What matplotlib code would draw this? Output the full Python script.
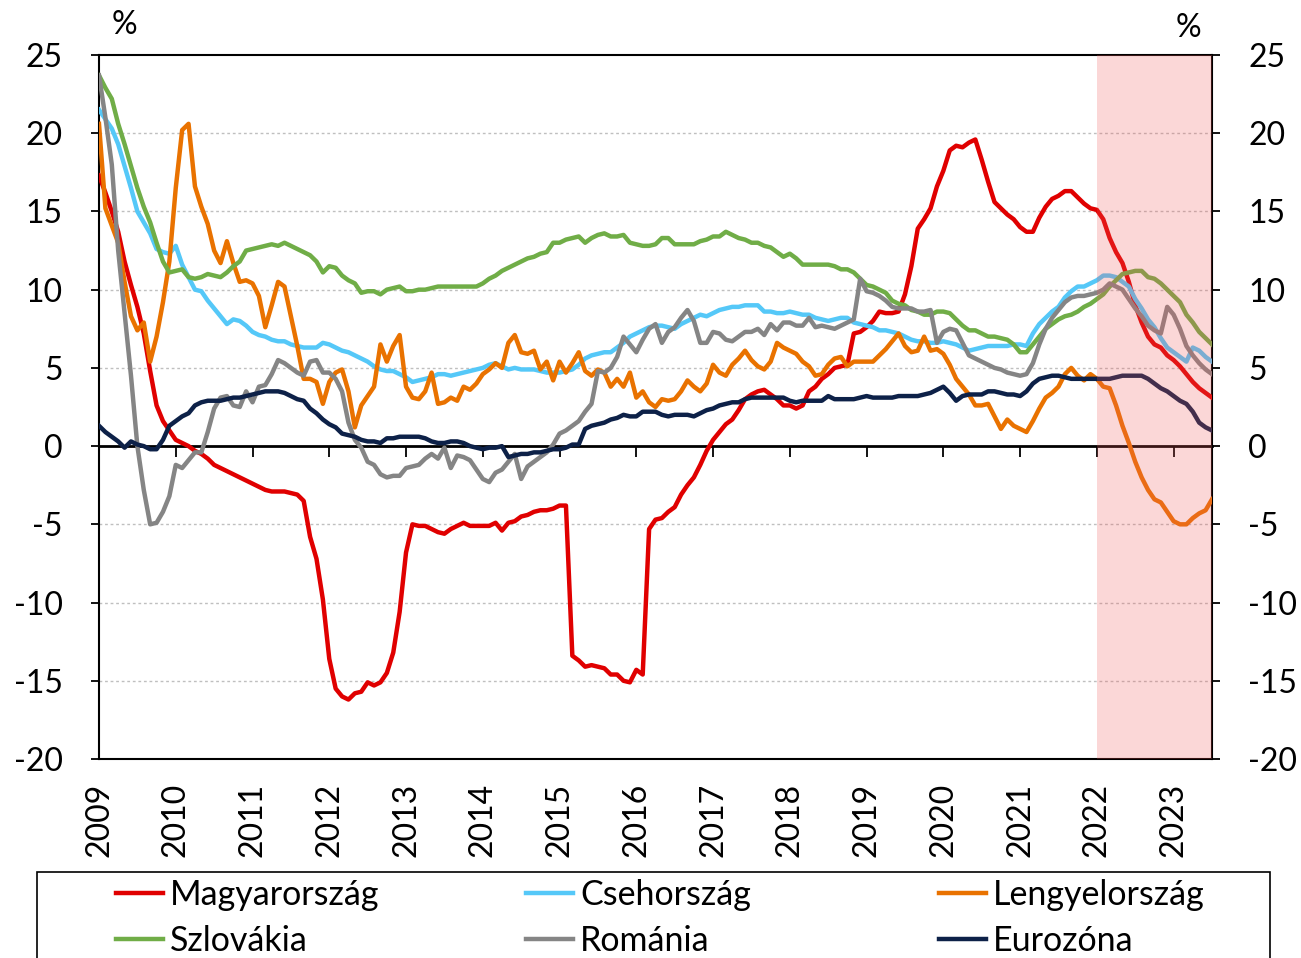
''' Inflation-type comparison chart, 2009-2023 '''

import numpy as np
import matplotlib.pyplot as plt
from matplotlib.patches import Rectangle

plt.rcParams['font.family'] = ['Lato', 'DejaVu Sans']
plt.rcParams['axes.unicode_minus'] = False

# monthly values, Jan 2009 - Jul 2023
magyar = [17.3, 16.2, 15.0, 13.7, 11.8, 10.3, 8.9, 7.2, 4.8, 2.6, 1.6, 1.0,
          0.4, 0.2, 0.0, -0.3, -0.5, -0.8, -1.2, -1.4, -1.6, -1.8, -2.0, -2.2,
          -2.4, -2.6, -2.8, -2.9, -2.9, -2.9, -3.0, -3.1, -3.5, -5.8, -7.2, -9.8,
          -13.6, -15.5, -16.0, -16.2, -15.8, -15.7, -15.1, -15.3, -15.1, -14.5, -13.2, -10.6,
          -6.8, -5.0, -5.1, -5.1, -5.3, -5.5, -5.6, -5.3, -5.1, -4.9, -5.1, -5.1,
          -5.1, -5.1, -4.9, -5.4, -4.9, -4.8, -4.5, -4.4, -4.2, -4.1, -4.1, -4.0,
          -3.8, -3.8, -13.4, -13.7, -14.1, -14.0, -14.1, -14.2, -14.6, -14.6, -15.0, -15.1,
          -14.3, -14.6, -5.3, -4.7, -4.6, -4.2, -3.9, -3.1, -2.5, -2.0, -1.2, -0.3,
          0.4, 0.9, 1.4, 1.7, 2.3, 3.0, 3.3, 3.5, 3.6, 3.3, 3.0, 2.6,
          2.6, 2.4, 2.6, 3.5, 3.8, 4.3, 4.6, 5.0, 5.1, 5.2, 7.2, 7.3,
          7.6, 8.0, 8.6, 8.5, 8.5, 8.6, 9.7, 11.5, 13.9, 14.5, 15.2, 16.6,
          17.6, 18.9, 19.2, 19.1, 19.4, 19.6, 18.3, 16.9, 15.6, 15.2, 14.8, 14.5,
          14.0, 13.7, 13.7, 14.6, 15.3, 15.8, 16.0, 16.3, 16.3, 15.9, 15.5, 15.2,
          15.1, 14.5, 13.3, 12.4, 11.7, 10.5, 9.0, 7.9, 7.0, 6.5, 6.3, 5.8,
          5.5, 5.1, 4.6, 4.1, 3.7, 3.4, 3.1]

cseh = [21.5, 20.9, 20.3, 19.3, 17.9, 16.5, 15.0, 14.3, 13.6, 12.6, 12.4, 12.3,
        12.8, 11.6, 10.8, 10.0, 9.9, 9.3, 8.8, 8.3, 7.8, 8.1, 8.0, 7.7,
        7.3, 7.1, 7.0, 6.8, 6.7, 6.7, 6.5, 6.4, 6.3, 6.3, 6.3, 6.6,
        6.5, 6.3, 6.1, 6.0, 5.8, 5.6, 5.4, 5.1, 4.9, 4.8, 4.8, 4.6,
        4.4, 4.1, 4.2, 4.3, 4.4, 4.6, 4.6, 4.5, 4.6, 4.7, 4.8, 4.9,
        5.0, 5.2, 5.3, 5.1, 4.9, 5.0, 4.9, 4.9, 4.9, 4.8, 4.7, 4.7,
        4.7, 4.8, 4.9, 5.2, 5.6, 5.8, 5.9, 6.0, 6.0, 6.3, 6.6, 7.0,
        7.2, 7.4, 7.6, 7.7, 7.7, 7.6, 7.5, 7.8, 8.0, 8.2, 8.4, 8.3,
        8.5, 8.7, 8.8, 8.9, 8.9, 9.0, 9.0, 9.0, 8.6, 8.6, 8.5, 8.5,
        8.6, 8.5, 8.4, 8.4, 8.2, 8.1, 8.0, 8.1, 8.2, 8.2, 7.9, 7.8,
        7.7, 7.6, 7.4, 7.4, 7.3, 7.2, 7.0, 6.8, 6.7, 6.7, 6.6, 6.6,
        6.7, 6.6, 6.5, 6.3, 6.1, 6.2, 6.3, 6.4, 6.4, 6.4, 6.4, 6.5,
        6.5, 6.4, 7.2, 7.8, 8.2, 8.6, 8.9, 9.5, 9.9, 10.2, 10.2, 10.4,
        10.6, 10.9, 10.9, 10.8, 10.5, 10.2, 9.4, 8.8, 8.1, 7.6, 6.9, 6.3,
        6.0, 5.7, 5.4, 6.3, 6.1, 5.7, 5.4]

lengyel = [20.6, 15.2, 14.1, 13.0, 10.5, 8.3, 7.4, 7.9, 5.4, 7.0, 9.2, 11.8,
           16.5, 20.2, 20.6, 16.6, 15.3, 14.2, 12.5, 11.7, 13.1, 11.7, 10.5, 10.6,
           10.4, 9.6, 7.6, 9.0, 10.5, 10.2, 8.3, 6.4, 4.3, 4.3, 4.1, 2.7,
           4.1, 4.7, 4.9, 3.5, 1.2, 2.6, 3.2, 3.8, 6.5, 5.4, 6.4, 7.1,
           3.8, 3.1, 3.0, 3.5, 4.7, 2.7, 2.8, 3.1, 2.9, 3.8, 3.6, 4.0,
           4.6, 4.9, 5.3, 5.0, 6.6, 7.1, 6.0, 5.9, 6.1, 4.9, 5.4, 4.2,
           5.4, 4.7, 5.3, 6.0, 4.8, 4.5, 4.9, 4.7, 3.8, 4.3, 3.8, 4.7,
           3.1, 3.5, 2.8, 2.5, 3.0, 2.9, 3.0, 3.5, 4.2, 3.8, 3.5, 4.0,
           5.2, 4.7, 4.5, 5.2, 5.6, 6.1, 5.5, 5.1, 4.9, 5.4, 6.6, 6.3,
           6.1, 5.9, 5.4, 5.1, 4.5, 4.6, 5.2, 5.6, 5.7, 5.1, 5.4, 5.4,
           5.4, 5.4, 5.8, 6.2, 6.7, 7.2, 6.4, 6.0, 6.1, 7.0, 6.1, 6.2,
           5.9, 5.2, 4.3, 3.8, 3.3, 2.6, 2.6, 2.7, 1.9, 1.1, 1.7, 1.3,
           1.1, 0.9, 1.6, 2.4, 3.1, 3.4, 3.8, 4.6, 5.0, 4.5, 4.2, 4.6,
           4.3, 3.8, 3.7, 2.6, 1.3, 0.2, -1.0, -2.0, -2.8, -3.4, -3.6, -4.2,
           -4.8, -5.0, -5.0, -4.6, -4.3, -4.1, -3.4]

szlovak = [23.7, 22.9, 22.2, 20.6, 19.3, 17.9, 16.5, 15.3, 14.3, 13.0, 11.8, 11.1,
           11.2, 11.3, 10.8, 10.7, 10.8, 11.0, 10.9, 10.8, 11.1, 11.5, 11.8, 12.5,
           12.6, 12.7, 12.8, 12.9, 12.8, 13.0, 12.8, 12.6, 12.4, 12.2, 11.8, 11.1,
           11.5, 11.4, 10.9, 10.6, 10.4, 9.8, 9.9, 9.9, 9.7, 10.0, 10.1, 10.2,
           9.9, 9.9, 10.0, 10.0, 10.1, 10.2, 10.2, 10.2, 10.2, 10.2, 10.2, 10.2,
           10.4, 10.7, 10.9, 11.2, 11.4, 11.6, 11.8, 12.0, 12.1, 12.3, 12.4, 13.0,
           13.0, 13.2, 13.3, 13.4, 13.0, 13.3, 13.5, 13.6, 13.4, 13.4, 13.5, 13.0,
           12.9, 12.8, 12.8, 12.9, 13.3, 13.3, 12.9, 12.9, 12.9, 12.9, 13.1, 13.2,
           13.4, 13.4, 13.7, 13.5, 13.3, 13.2, 13.0, 13.0, 12.8, 12.7, 12.4, 12.1,
           12.3, 12.0, 11.6, 11.6, 11.6, 11.6, 11.6, 11.5, 11.3, 11.3, 11.1, 10.7,
           10.3, 10.2, 10.0, 9.8, 9.3, 9.1, 9.0, 8.7, 8.6, 8.4, 8.4, 8.6,
           8.6, 8.5, 8.1, 7.7, 7.4, 7.4, 7.2, 7.0, 7.0, 6.9, 6.8, 6.5,
           6.0, 6.0, 6.5, 7.0, 7.5, 7.8, 8.1, 8.3, 8.4, 8.6, 8.9, 9.1,
           9.4, 9.7, 10.2, 10.6, 11.0, 11.1, 11.2, 11.2, 10.8, 10.7, 10.4, 10.0,
           9.6, 9.2, 8.4, 7.9, 7.3, 6.9, 6.5]

roman = [23.7, 21.0, 18.0, 12.5, 8.5, 4.5, 0.0, -2.8, -5.0, -4.9, -4.2, -3.2,
         -1.2, -1.4, -0.9, -0.4, -0.4, 0.9, 2.4, 3.1, 3.2, 2.6, 2.5, 3.5,
         2.8, 3.8, 3.9, 4.6, 5.5, 5.3, 5.0, 4.7, 4.5, 5.4, 5.5, 4.7,
         4.7, 4.3, 3.5, 1.5, 0.4, -0.1, -1.0, -1.2, -1.8, -2.0, -1.9, -1.9,
         -1.4, -1.3, -1.2, -0.8, -0.5, -0.8, -0.1, -1.4, -0.6, -0.7, -0.9, -1.5,
         -2.1, -2.3, -1.7, -1.5, -1.0, -0.5, -2.1, -1.3, -1.0, -0.7, -0.4, 0.1,
         0.8, 1.0, 1.3, 1.6, 2.2, 2.7, 4.8, 4.7, 5.0, 5.7, 7.0, 6.5,
         6.0, 6.8, 7.5, 7.8, 6.6, 7.3, 7.6, 8.2, 8.7, 8.0, 6.6, 6.6,
         7.3, 7.2, 6.8, 6.7, 7.0, 7.3, 7.3, 7.5, 7.1, 7.8, 7.4, 7.9,
         7.9, 7.7, 7.7, 8.2, 7.6, 7.7, 7.6, 7.5, 7.7, 7.9, 8.1, 10.7,
         9.9, 9.8, 9.6, 9.3, 8.9, 8.8, 8.8, 8.8, 8.6, 8.6, 8.7, 6.6,
         7.3, 7.5, 7.4, 6.6, 5.8, 5.6, 5.4, 5.2, 5.0, 4.9, 4.7, 4.6,
         4.5, 4.6, 5.3, 6.5, 7.5, 8.2, 8.7, 9.2, 9.5, 9.6, 9.6, 9.7,
         9.8, 10.0, 10.4, 10.2, 10.0, 9.4, 8.8, 8.3, 7.7, 7.4, 7.2, 8.9,
         8.4, 7.5, 6.4, 5.8, 5.3, 4.9, 4.6]

euro = [1.3, 0.9, 0.6, 0.3, -0.1, 0.3, 0.1, 0.0, -0.2, -0.2, 0.4, 1.3,
        1.6, 1.9, 2.1, 2.6, 2.8, 2.9, 2.9, 2.9, 3.0, 3.1, 3.1, 3.2,
        3.3, 3.4, 3.5, 3.5, 3.5, 3.4, 3.2, 3.0, 2.9, 2.4, 2.1, 1.7,
        1.4, 1.2, 0.8, 0.7, 0.6, 0.4, 0.3, 0.3, 0.2, 0.5, 0.5, 0.6,
        0.6, 0.6, 0.6, 0.5, 0.3, 0.2, 0.2, 0.3, 0.3, 0.2, 0.0, -0.1,
        -0.2, -0.1, -0.1, 0.0, -0.7, -0.6, -0.5, -0.5, -0.4, -0.4, -0.3, -0.2,
        -0.2, -0.1, 0.1, 0.1, 1.1, 1.3, 1.4, 1.5, 1.7, 1.8, 2.0, 1.9,
        1.9, 2.2, 2.2, 2.2, 2.0, 1.9, 2.0, 2.0, 2.0, 1.9, 2.1, 2.3,
        2.4, 2.6, 2.7, 2.8, 2.8, 3.0, 3.1, 3.1, 3.1, 3.1, 3.1, 3.1,
        2.9, 2.8, 2.9, 2.9, 2.9, 2.9, 3.2, 3.0, 3.0, 3.0, 3.0, 3.1,
        3.2, 3.1, 3.1, 3.1, 3.1, 3.2, 3.2, 3.2, 3.2, 3.3, 3.4, 3.6,
        3.8, 3.4, 2.9, 3.2, 3.3, 3.3, 3.3, 3.5, 3.5, 3.4, 3.3, 3.3,
        3.2, 3.5, 4.0, 4.3, 4.4, 4.5, 4.5, 4.4, 4.3, 4.3, 4.3, 4.3,
        4.3, 4.3, 4.3, 4.4, 4.5, 4.5, 4.5, 4.5, 4.3, 4.0, 3.7, 3.5,
        3.2, 2.9, 2.7, 2.2, 1.5, 1.2, 1.0]

names = ['Magyarország', 'Csehország', 'Lengyelország', 'Szlovákia', 'Románia', 'Eurozóna']
colors = ['#E00000', '#55C8F8', '#E97200', '#70AD47', '#858585', '#0D2148']
series = [magyar, cseh, lengyel, szlovak, roman, euro]
years = np.arange(2009, 2024)

t = 2009 + np.arange(len(magyar)) / 12

fig = plt.figure(figsize=(13.01, 9.58), dpi=100)
ax = fig.add_axes([99/1301, 1-759/958, (1212-99)/1301, (759-55)/958])

lines = []
for y, c, n in zip(series, colors, names):
    ln, = ax.plot(t, y, color=c, lw=3.2, label=n, zorder=3)
    lines.append(ln)

# shaded latest period, drawn over the lines
ax.axvspan(2022, t[-1], color=(0.94, 0.35, 0.35), alpha=0.24, lw=0, zorder=4)

ax.set_xlim(2009, t[-1])
ax.set_ylim(-20, 25)
ax.set_yticks(np.arange(-20, 26, 5))
ax.yaxis.set_ticks_position('both')
ax.tick_params(axis='y', direction='out', length=6, width=1.3, labelsize=23,
               pad=20, labelright=True, right=True, left=True)
for yv in np.arange(-15, 25, 5):
    if yv != 0:
        ax.axhline(yv, color='#BFBFBF', lw=1, ls=(0, (2, 2)), zorder=1)

ax.set_xticks(years)
ax.set_xticklabels([str(y) for y in years], rotation=90)
ax.tick_params(axis='x', length=0, labelsize=23, pad=17)

for s in ax.spines.values():
    s.set_linewidth(1.5)
    s.set_color('black')

# zero line with the year tick marks
sec = ax.secondary_xaxis(20/45)
sec.set_xticks(years[1:])
sec.set_xticklabels([])
sec.tick_params(axis='x', direction='out', length=8, width=1.3)
sec.spines['bottom'].set_linewidth(2)

fig.text(124/1301, 1-25/958, '%', fontsize=23, ha='center', va='center')
fig.text(1188/1301, 1-28/958, '%', fontsize=23, ha='center', va='center')

# legend frame and three legend columns
fig.patches.append(Rectangle((37/1301, -0.05), (1270-37)/1301, 1-872/958+0.05,
                             transform=fig.transFigure, fill=False,
                             edgecolor='black', lw=1.2))
col_x = [92/1301, 502/1301, 915/1301]
for i in range(3):
    fig.legend([lines[i], lines[i+3]], [names[i], names[i+3]],
               loc='upper left', bbox_to_anchor=(col_x[i], 1-855/958),
               frameon=False, fontsize=24.5, handlelength=1.4,
               handletextpad=0.2, labelspacing=0.42, borderpad=0.2)

fig.savefig('out.png', dpi=100)
